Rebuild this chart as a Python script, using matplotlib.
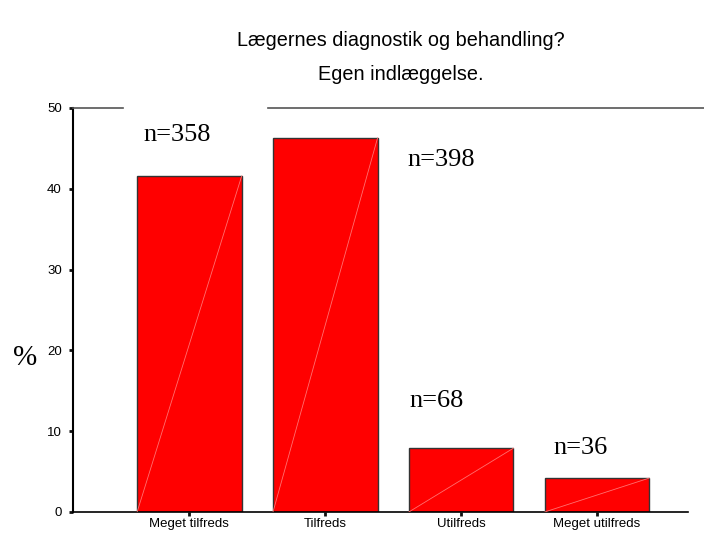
import numpy as np
import matplotlib.pyplot as plt
from matplotlib.lines import Line2D

# data
categories = ['Meget tilfreds', 'Tilfreds', 'Utilfreds', 'Meget utilfreds']
percent = [41.6, 46.3, 7.9, 4.2]
counts = [358, 398, 68, 36]
# label anchor (x offset from bar centre, y in %)
label_dx = [-0.335, 0.603, -0.38, -0.32]
label_y = [46.7, 43.6, 13.7, 7.9]

fig = plt.figure(figsize=(7.04, 5.33), dpi=100)
ax = fig.add_axes([73 / 704, 1 - 512 / 533, (688 - 73) / 704, (512 - 108) / 533])

x = np.arange(len(categories))
w = 0.77
ax.bar(x, percent, width=w, color='#ff0000', edgecolor='#333333', linewidth=1.0, zorder=2)

# the thin light diagonal in each bar
for xi, h in zip(x, percent):
    ax.plot([xi - w / 2, xi + w / 2], [0, h], color='#ff7070', lw=0.6, zorder=3)

for xi, dx, yy, n in zip(x, label_dx, label_y, counts):
    ax.text(xi + dx, yy, 'n=%d' % n, family='Liberation Serif', fontsize=19,
            va='center', ha='left')

ax.set_xlim(-0.857, 3.67)
ax.set_ylim(0, 50)
ax.set_xticks(x)
ax.set_xticklabels(categories, family='Liberation Sans', fontsize=9.5)
ax.set_yticks([0, 10, 20, 30, 40, 50])
ax.set_yticklabels(['0', '10', '20', '30', '40', '50'], family='Liberation Sans', fontsize=9.5)
ax.tick_params(axis='both', direction='out', length=3, width=2, color='#111111')
ax.tick_params(axis='x', pad=1.5)
ax.tick_params(axis='y', pad=5)

for s in ['top', 'right']:
    ax.spines[s].set_visible(False)
ax.spines['left'].set_linewidth(1.5)
ax.spines['bottom'].set_linewidth(1.2)

# grey frame line across the top, broken behind the first label
ytop = 1 - 108 / 533
fig.add_artist(Line2D([73 / 704, 123 / 704], [ytop, ytop], color='#555555', lw=1.2))
fig.add_artist(Line2D([268 / 704, 1.0], [ytop, ytop], color='#555555', lw=1.2))

fig.text(25 / 704, 1 - 358 / 533, '%', family='Liberation Serif', fontsize=21,
         ha='center', va='center')

fig.text(401 / 704, 1 - 40 / 533, 'Lægernes diagnostik og behandling?',
         family='Liberation Sans', fontsize=14.3, ha='center', va='center')
fig.text(401 / 704, 1 - 75 / 533, 'Egen indlæggelse.',
         family='Liberation Sans', fontsize=14.3, ha='center', va='center')

fig.savefig('out.png', dpi=100)
